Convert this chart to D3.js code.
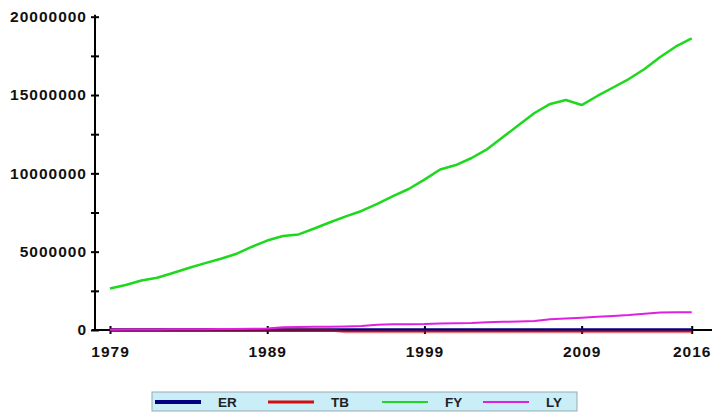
<!DOCTYPE html>
<html>
<head>
<meta charset="utf-8">
<script src="https://cdn.jsdelivr.net/npm/d3@7"></script>
<style>
  html, body { margin: 0; padding: 0; background: #fff; }
  svg { display: block; }
  .tick text, .lbl { font-family: "Liberation Sans", Arial, sans-serif; font-weight: bold; }
</style>
</head>
<body>
<svg id="chart" width="714" height="413"></svg>
<script>
// Years on the x axis
const years = d3.range(1979, 2017);
const xTickYears = [1979, 1989, 1999, 2009, 2016];
const yTicks = [0, 5000000, 10000000, 15000000, 20000000];
const yMinorTicks = [2500000, 7500000, 12500000, 17500000];

// Series values, one per year 1979..2016
const ER = [0,0,0,0,0,0,0,0,0,0,0,0,0,0,0,0,0,0,0,0,0,0,0,0,0,0,0,0,0,0,0,0,0,0,0,0,0,0];
const TB = [0,0,0,0,0,0,0,0,0,0,0,0,0,0,0,-110000,-110000,-110000,-110000,-110000,-110000,-110000,-110000,-110000,-110000,-110000,-110000,-110000,-110000,-110000,-110000,-110000,-110000,-110000,-110000,-110000,-110000,-110000];
const FY = [2650000,2870000,3160000,3340000,3640000,3960000,4250000,4530000,4850000,5300000,
            5710000,6000000,6100000,6480000,6880000,7250000,7600000,8050000,8550000,9000000,
            9600000,10250000,10530000,10980000,11550000,12320000,13090000,13850000,14430000,14680000,
            14360000,14940000,15480000,16020000,16660000,17430000,18100000,18610000];
const LY = [20000,25000,30000,35000,40000,45000,50000,60000,70000,80000,
            100000,180000,190000,200000,210000,220000,250000,340000,360000,370000,
            380000,420000,430000,450000,500000,520000,550000,580000,680000,740000,
            780000,840000,890000,950000,1040000,1120000,1140000,1140000];

const seriesNames = ["ER", "TB", "FY", "LY"];
const seriesColors = ["#000080", "#d01010", "#1ed81e", "#e020e0"];

const svg = d3.select("#chart");

const x = d3.scaleLinear().domain([1979, 2016]).range([110, 691.7]);
const y = d3.scaleLinear().domain([0, 20000000]).range([330, 16.7]);

// Y axis: labelled ticks on the left, short stubs on the right
const yAxis = svg.append("g").attr("transform", "translate(95,0)")
  .call(d3.axisLeft(y).tickValues(yTicks).tickSize(4).tickPadding(4).tickFormat(d3.format("d")));
svg.append("g").attr("transform", "translate(95,0)")
  .call(d3.axisRight(y).tickValues(yTicks.concat(yMinorTicks)).tickSize(4).tickFormat(""))
  .select(".domain").remove();
svg.append("g").attr("transform", "translate(95,0)")
  .call(d3.axisLeft(y).tickValues(yMinorTicks).tickSize(4).tickFormat(""))
  .select(".domain").remove();
yAxis.select(".domain").remove();
svg.append("line").attr("x1", 95).attr("x2", 95).attr("y1", y(20000000) - 2).attr("y2", y(0))
  .attr("stroke", "#000").attr("stroke-width", 2);

yAxis.selectAll(".tick text").attr("font-size", 15.5).attr("letter-spacing", 1).attr("fill", "#111");

// X axis
const xAxis = svg.append("g").attr("transform", "translate(0,330)")
  .call(d3.axisBottom(x).tickValues(xTickYears).tickSize(4).tickPadding(12).tickFormat(d3.format("d")));
xAxis.select(".domain").remove();
svg.append("line").attr("x1", 92).attr("x2", 712).attr("y1", 330).attr("y2", 330)
  .attr("stroke", "#000").attr("stroke-width", 2);
svg.append("g").attr("transform", "translate(0,330)")
  .call(d3.axisTop(x).tickValues(xTickYears).tickSize(4).tickFormat(""))
  .select(".domain").remove();
xAxis.selectAll(".tick text").attr("font-size", 15.5).attr("letter-spacing", 1).attr("fill", "#111");
svg.selectAll(".tick line").attr("stroke", "#000").attr("stroke-width", 2);

// Series lines
const line = d3.line().x((d, i) => x(years[i])).y(d => y(d));
const seriesData = [ER, TB, FY, LY];
const widths = [3.5, 3, 2.5, 2];
const opac = [1, 0.55, 1, 1];
seriesData.forEach((vals, k) => {
  svg.append("path").datum(vals)
    .attr("d", line)
    .attr("fill", "none")
    .attr("stroke", seriesColors[k])
    .attr("stroke-width", widths[k])
    .attr("stroke-opacity", opac[k])
    .attr("stroke-linejoin", "round");
});

// Legend
const lg = svg.append("g");
lg.append("rect").attr("x", 152).attr("y", 392).attr("width", 425).attr("height", 19)
  .attr("fill", "#c9eef7").attr("stroke", "#9aa9ae").attr("stroke-width", 1);
const legendX = [155, 268, 382, 483];
seriesNames.forEach((name, k) => {
  lg.append("line").attr("x1", legendX[k]).attr("x2", legendX[k] + 46)
    .attr("y1", 402).attr("y2", 402)
    .attr("stroke", seriesColors[k]).attr("stroke-width", [4, 3, 2, 2][k]);
  lg.append("text").attr("class", "lbl").attr("x", legendX[k] + 63).attr("y", 407)
    .attr("font-size", 13.5).attr("fill", "#222").text(name);
});
</script>
</body>
</html>
